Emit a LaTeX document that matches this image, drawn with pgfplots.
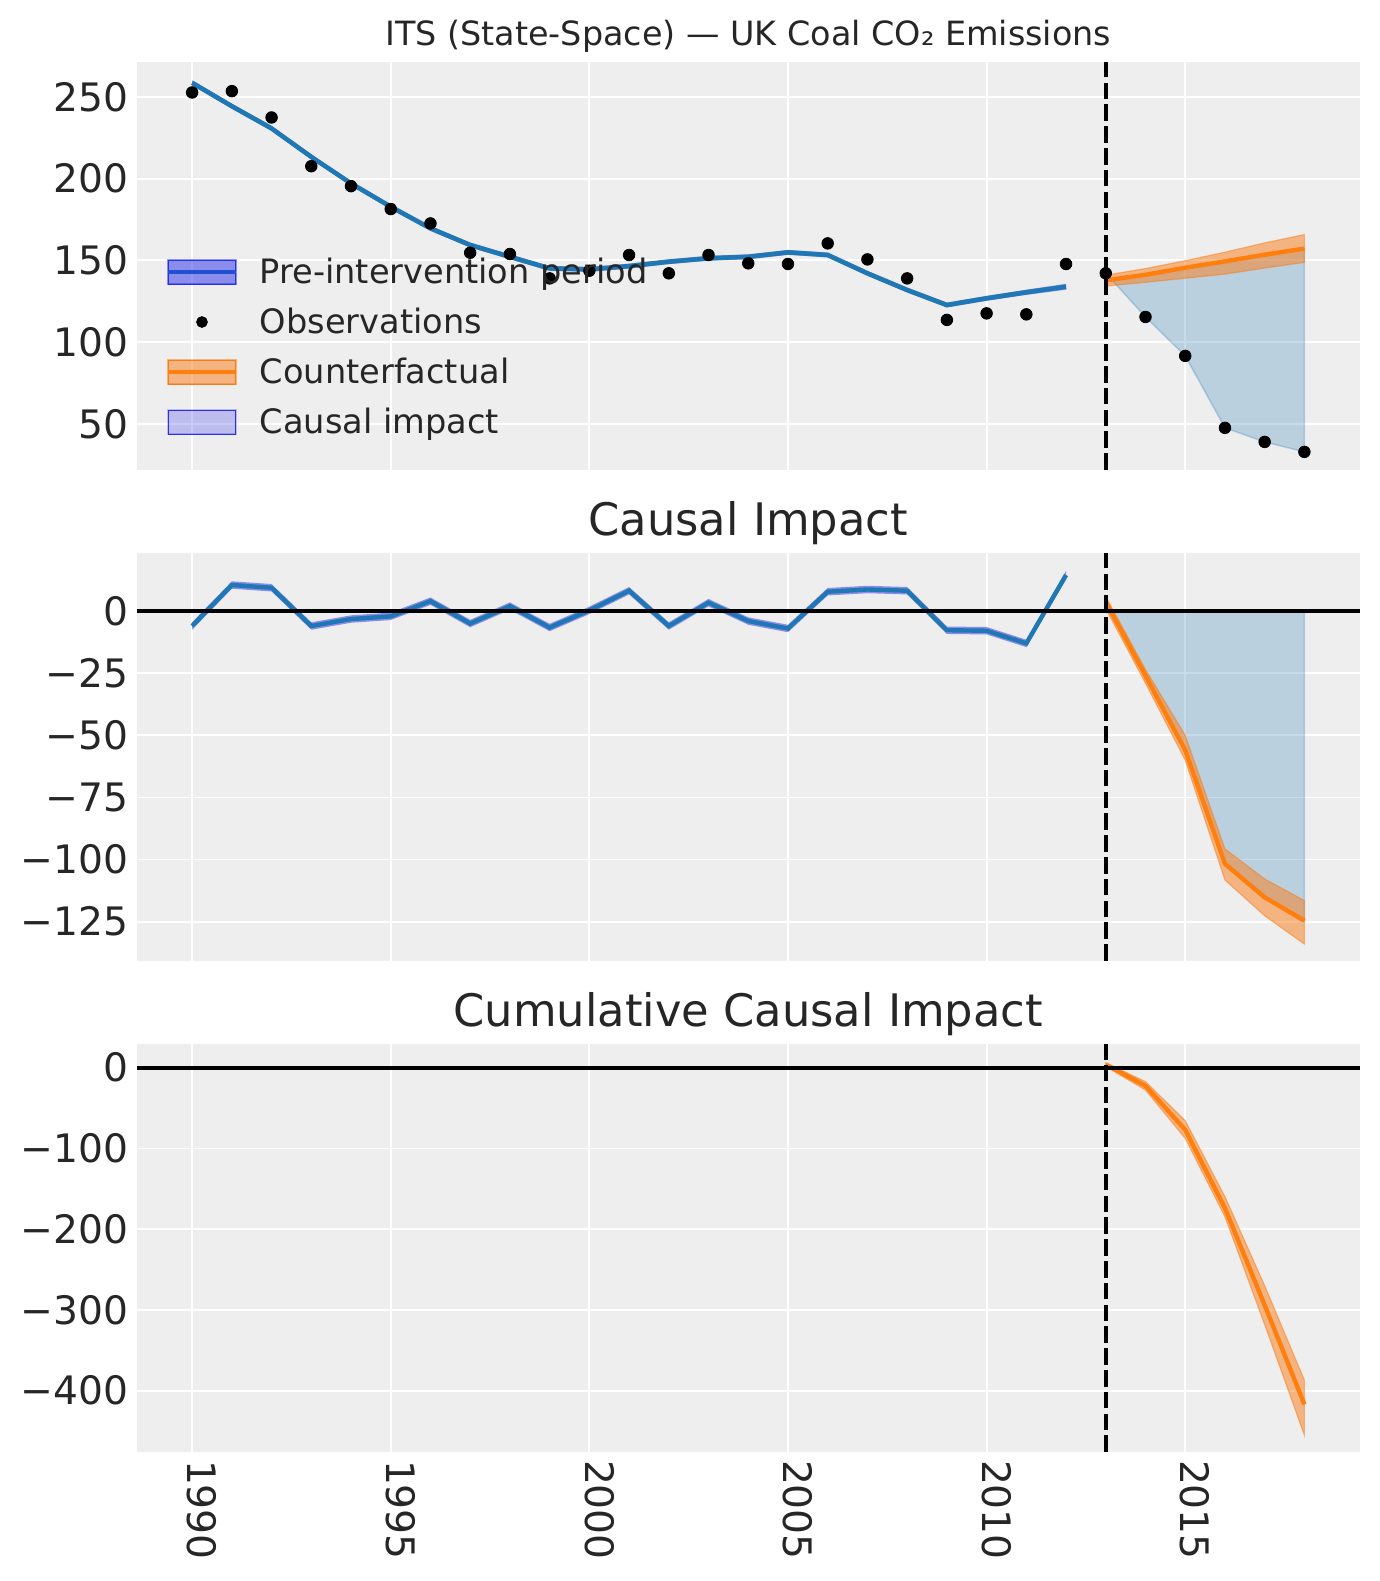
\documentclass[border=0pt]{standalone}
\usepackage{fontspec}
\setmainfont{DejaVu Sans}
\usepackage{pgfplots}
\pgfplotsset{compat=1.18}
\usepackage{pgfplotstable}
\usepgfplotslibrary{fillbetween}

\definecolor{bg}{HTML}{EEEEEE}
\definecolor{Cblue}{HTML}{1F77B4}
\definecolor{Cpurp}{HTML}{2A2EEC}
\definecolor{Corange}{HTML}{FF7F0E}
\definecolor{Corange2}{HTML}{FA7C17}
\definecolor{txt}{HTML}{262626}
\definecolor{legline}{HTML}{2250D4}

% ---------- top panel data ----------
\pgfplotstableread{
year obs
1990 252.7
1991 253.5
1992 237.4
1993 207.6
1994 195.4
1995 181.4
1996 172.6
1997 154.7
1998 153.9
1999 139.0
2000 143.7
2001 153.3
2002 142.1
2003 153.3
2004 148.2
2005 147.8
2006 160.4
2007 150.6
2008 139.0
2009 113.6
2010 117.6
2011 117.0
2012 147.8
2013 142.1
2014 115.4
2015 91.6
2016 47.6
2017 39.0
2018 32.9
}\obsdata

\pgfplotstableread{
year fit lo hi
1990 258.6 257.1 260.1
1991 244.3 242.8 245.8
1992 230.7 229.2 232.2
1993 213.3 211.8 214.8
1994 197.1 195.6 198.6
1995 182.8 181.3 184.3
1996 169.6 168.1 171.1
1997 159.4 157.9 160.9
1998 152.2 150.7 153.7
1999 145.1 143.6 146.6
2000 144.5 143.0 146.0
2001 146.5 145.0 148.0
2002 149.2 147.7 150.7
2003 151.3 149.8 152.8
2004 152.2 150.7 153.7
2005 154.9 153.4 156.4
2006 153.3 151.8 154.8
2007 142.1 140.6 143.6
2008 131.9 130.4 133.4
2009 122.7 121.2 124.2
2010 126.8 125.3 128.3
2011 130.5 128.9 132.1
2012 133.9 132.1 135.7
}\fitdata

\pgfplotstableread{
year mean lo hi obs
2013 137.8 134.3 141.0 142.1
2014 141.2 136.6 145.0 115.4
2015 145.5 139.1 149.8 91.6
2016 149.4 141.6 155.0 47.6
2017 153.5 145.3 160.7 39.0
2018 157.2 148.8 165.8 32.9
}\cfdata

% ---------- middle panel data ----------
\pgfplotstableread{
year imp lo hi
1990 -6.0 -7.5 -4.5
1991 10.5 9.0 12.0
1992 9.4 7.9 10.9
1993 -6.0 -7.5 -4.5
1994 -3.2 -4.7 -1.7
1995 -2.1 -3.6 -0.6
1996 4.0 2.5 5.5
1997 -5.0 -6.5 -3.5
1998 2.0 0.5 3.5
1999 -6.6 -8.1 -5.1
2000 0.3 -1.2 1.8
2001 8.2 6.7 9.7
2002 -6.0 -7.5 -4.5
2003 3.4 1.9 4.9
2004 -4.0 -5.5 -2.5
2005 -7.0 -8.5 -5.5
2006 7.8 6.3 9.3
2007 8.7 7.2 10.2
2008 8.2 6.7 9.7
2009 -7.7 -9.2 -6.2
2010 -7.9 -9.4 -6.4
2011 -13.0 -14.5 -11.5
2012 14.5 12.8 16.2
}\preimp

\pgfplotstableread{
year mean lo hi zero
2013 3.7 1.0 5.8 0
2014 -26.0 -29.0 -23.5 0
2015 -56.0 -60.0 -50.0 0
2016 -101.7 -108.2 -95.7 0
2017 -115.2 -122.6 -107.8 0
2018 -124.6 -134.0 -116.5 0
}\postimp

% ---------- bottom panel data ----------
\pgfplotstableread{
year mean lo hi
2013 4.0 1.5 6.0
2014 -22.5 -27.7 -17.3
2015 -77.0 -87.5 -65.6
2016 -174.0 -184.5 -159.7
2017 -294.0 -318.0 -270.0
2018 -417.0 -455.0 -387.0
}\cumimp

\pgfplotsset{
  panel/.style={
    scale only axis, width=611.75pt, height=204pt,
    xmin=1988.6, xmax=2019.4,
    axis background/.style={fill=bg},
    axis line style={draw=none},
    tick style={draw=none},
    major tick length=0pt,
    grid=major, major grid style={white, line width=0.9pt},
    xtick={1990,1995,2000,2005,2010,2015},
    xticklabels={},
    ticklabel style={font=\fontsize{19.6}{23}\selectfont, text=txt},
    yticklabel style={inner sep=0pt, anchor=east},
    yticklabel shift=4pt,
    every axis title/.style={at={(0.5,1)}, anchor=base, inner sep=0pt, text=txt},
  },
}

\begin{document}
\begin{tikzpicture}

% ================= TOP =================
\begin{axis}[panel, at={(68.25pt,-30.85pt)}, anchor=north west,
  ymin=22, ymax=271.5,
  ytick={50,100,150,200,250}, yticklabels={50,100,150,200,250},
  title={ITS (State-Space) — UK Coal CO₂ Emissions},
  title style={font=\fontsize{16.7}{20}\selectfont, yshift=8.3pt},
  legend cell align=left,
  legend style={draw=none, fill=none, at={(0.0245,0.5458)}, anchor=north west,
    font=\fontsize{16.8}{20}\selectfont, text=txt, inner sep=0pt, outer sep=0pt,
    row sep=0pt, column sep=0pt, nodes={inner sep=0pt}},
]
\addplot[name path=fhi, draw=none, forget plot] table[x=year,y=hi]{\fitdata};
\addplot[name path=flo, draw=none, forget plot] table[x=year,y=lo]{\fitdata};
\addplot[fill=Cpurp, fill opacity=0.5, draw=none, forget plot] fill between[of=fhi and flo];
\addplot[Cblue, line width=2.3pt, forget plot] table[x=year,y=fit]{\fitdata};

\addplot[name path=pobs, draw=none, forget plot] table[x=year,y=obs]{\cfdata};
\addplot[name path=cmean, draw=none, forget plot] table[x=year,y=mean]{\cfdata};
\addplot[fill=Cblue, fill opacity=0.25, draw=Cblue, draw opacity=0.25, line width=0.8pt, forget plot] fill between[of=pobs and cmean];

\addplot[name path=chi, draw=none, forget plot] table[x=year,y=hi]{\cfdata};
\addplot[name path=clo, draw=none, forget plot] table[x=year,y=lo]{\cfdata};
\addplot[fill=Corange2, fill opacity=0.5, draw=Corange2, draw opacity=0.5, line width=0.6pt, forget plot] fill between[of=chi and clo];
\addplot[Corange, line width=2.2pt, forget plot] table[x=year,y=mean]{\cfdata};

\addplot[black, line width=2pt, dash pattern=on 8.3pt off 2.6pt, forget plot] coordinates {(2013,22) (2013,271.5)};
\addplot[only marks, mark=*, mark size=2.9pt, black, forget plot] table[x=year,y=obs]{\obsdata};

\addlegendimage{legend image code/.code={
  \path[draw=none, fill=none] (0pt,-12.5pt) rectangle (45.8pt,12.5pt);
  \fill[Cpurp, fill opacity=0.5] (0pt,-6pt) rectangle (33.8pt,6pt);
  \draw[Cpurp, draw opacity=0.5, line width=1pt] (0pt,-6pt) rectangle (33.8pt,6pt);
  \draw[legline, line width=1.7pt] (0pt,0pt) -- (33.8pt,0pt);
}}
\addlegendentry{Pre-intervention period}
\addlegendimage{legend image code/.code={
  \path[draw=none, fill=none] (0pt,-12.5pt) rectangle (45.8pt,12.5pt);
  \fill[black] (16.9pt,0pt) circle (2.7pt);
}}
\addlegendentry{Observations}
\addlegendimage{legend image code/.code={
  \path[draw=none, fill=none] (0pt,-12.5pt) rectangle (45.8pt,12.5pt);
  \fill[Corange2, fill opacity=0.5] (0pt,-6pt) rectangle (33.8pt,6pt);
  \draw[Corange2, draw opacity=0.5, line width=1pt] (0pt,-6pt) rectangle (33.8pt,6pt);
  \draw[Corange, line width=1.7pt] (0pt,0pt) -- (33.8pt,0pt);
}}
\addlegendentry{Counterfactual}
\addlegendimage{legend image code/.code={
  \path[draw=none, fill=none] (0pt,-12.5pt) rectangle (45.8pt,12.5pt);
  \fill[Cpurp, fill opacity=0.25] (0pt,-6pt) rectangle (33.8pt,6pt);
  \draw[Cpurp, draw opacity=0.25, line width=1pt] (0pt,-6pt) rectangle (33.8pt,6pt);
}}
\addlegendentry{Causal impact}
\end{axis}

% ================= MIDDLE =================
\begin{axis}[panel, at={(68.25pt,-276.35pt)}, anchor=north west,
  ymin=-140.7, ymax=23.5,
  ytick={-125,-100,-75,-50,-25,0}, yticklabels={−125,−100,−75,−50,−25,0},
  title={Causal Impact},
  title style={font=\fontsize{22.4}{27}\selectfont, yshift=8.8pt},
]
\addplot[name path=phi, draw=none] table[x=year,y=hi]{\preimp};
\addplot[name path=plo, draw=none] table[x=year,y=lo]{\preimp};
\addplot[fill=Cpurp, fill opacity=0.5, draw=none] fill between[of=phi and plo];
\addplot[Cblue, line width=2.2pt] table[x=year,y=imp]{\preimp};

\addplot[name path=z, draw=none] table[x=year,y=zero]{\postimp};
\addplot[name path=im, draw=none] table[x=year,y=mean]{\postimp};
\addplot[fill=Cblue, fill opacity=0.25, draw=Cblue, draw opacity=0.25, line width=0.8pt] fill between[of=z and im];

\addplot[name path=ihi, draw=none] table[x=year,y=hi]{\postimp};
\addplot[name path=ilo, draw=none] table[x=year,y=lo]{\postimp};
\addplot[fill=Corange2, fill opacity=0.5, draw=Corange2, draw opacity=0.5, line width=0.6pt] fill between[of=ihi and ilo];
\addplot[Corange, line width=2.2pt] table[x=year,y=mean]{\postimp};

\addplot[black, line width=2pt] coordinates {(1988.6,0) (2019.4,0)};
\addplot[black, line width=2pt, dash pattern=on 8.3pt off 2.6pt] coordinates {(2013,-140.7) (2013,23.5)};
\end{axis}

% ================= BOTTOM =================
\begin{axis}[panel, at={(68.25pt,-522pt)}, anchor=north west,
  ymin=-475.9, ymax=29.3,
  ytick={-400,-300,-200,-100,0}, yticklabels={−400,−300,−200,−100,0},
  xticklabels={1990,1995,2000,2005,2010,2015},
  xticklabel style={xshift=5pt, rotate=-90, anchor=west, inner sep=0pt},
  xticklabel shift=3.8pt,
  title={Cumulative Causal Impact},
  title style={font=\fontsize{22.4}{27}\selectfont, yshift=8.8pt},
]
\addplot[name path=uhi, draw=none] table[x=year,y=hi]{\cumimp};
\addplot[name path=ulo, draw=none] table[x=year,y=lo]{\cumimp};
\addplot[fill=Corange2, fill opacity=0.5, draw=Corange2, draw opacity=0.5, line width=0.6pt] fill between[of=uhi and ulo];
\addplot[Corange, line width=2.2pt] table[x=year,y=mean]{\cumimp};

\addplot[black, line width=2pt] coordinates {(1988.6,0) (2019.4,0)};
\addplot[black, line width=2pt, dash pattern=on 8.3pt off 2.6pt] coordinates {(2013,-475.9) (2013,29.3)};
\end{axis}

\pgfresetboundingbox
\path (0pt,0pt) rectangle (690pt,-790.5pt);
\end{tikzpicture}
\end{document}
